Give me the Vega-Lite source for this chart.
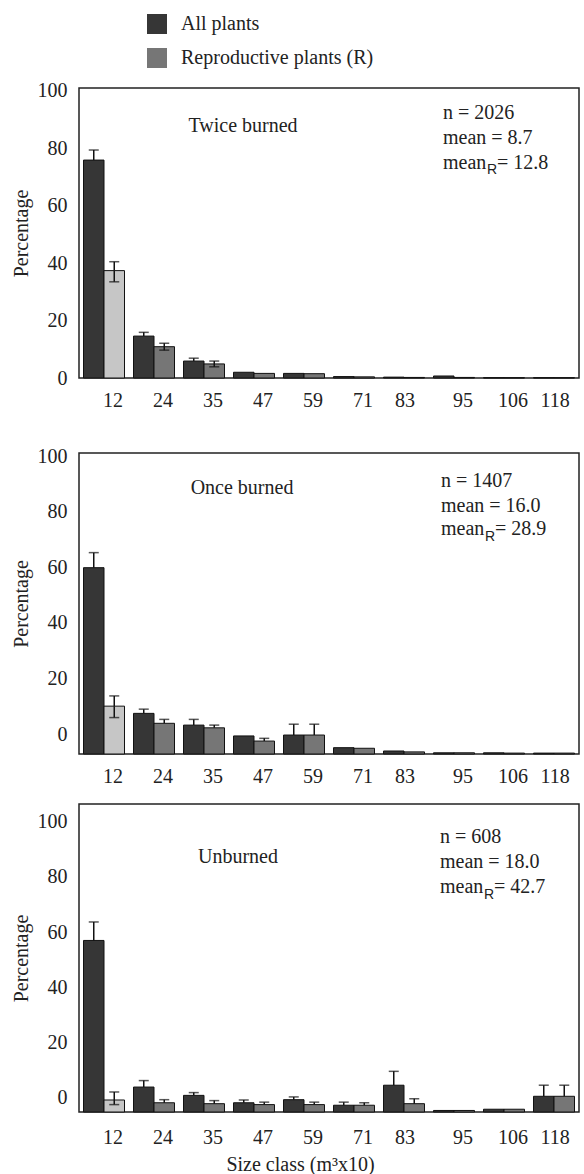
{
  "$schema": "https://vega.github.io/schema/vega-lite/v6.json",
  "padding": {"left": 10, "top": 14, "right": 0, "bottom": 0},
  "config": {
    "font": "Liberation Serif",
    "view": {"stroke": "#222", "strokeWidth": 1.5},
    "axis": {"grid": false, "ticks": false, "tickSize": 0, "domain": false, "labelFont": "Liberation Serif", "labelFontSize": 20, "labelColor": "#222", "titleFont": "Liberation Serif", "titleFontSize": 20, "titleFontWeight": "normal", "titleColor": "#222"},
    "axisX": {"labelAngle": 0, "labelPadding": 12},
    "axisY": {"labelPadding": 12, "titlePadding": 6, "labelFlush": false},
    "legend": {"labelLimit": 400, "labelFont": "Liberation Serif"},
    "text": {"font": "Liberation Serif", "fontSize": 20, "color": "#222"}
  },
  "datasets": {
    "bars": [
      {"p":"Twice burned","c":"12","g":"All plants","v":75.9,"hi":79.4},
      {"p":"Twice burned","c":"12","g":"Reproductive plants (R)","v":37.4,"lo":33.5,"hi":40.5},
      {"p":"Twice burned","c":"24","g":"All plants","v":14.6,"hi":15.9},
      {"p":"Twice burned","c":"24","g":"Reproductive plants (R)","v":10.9,"lo":9.7,"hi":12.1},
      {"p":"Twice burned","c":"35","g":"All plants","v":5.9,"hi":6.9},
      {"p":"Twice burned","c":"35","g":"Reproductive plants (R)","v":4.9,"lo":3.9,"hi":5.9},
      {"p":"Twice burned","c":"47","g":"All plants","v":2.0},
      {"p":"Twice burned","c":"47","g":"Reproductive plants (R)","v":1.6},
      {"p":"Twice burned","c":"59","g":"All plants","v":1.6},
      {"p":"Twice burned","c":"59","g":"Reproductive plants (R)","v":1.5},
      {"p":"Twice burned","c":"71","g":"All plants","v":0.5},
      {"p":"Twice burned","c":"71","g":"Reproductive plants (R)","v":0.4},
      {"p":"Twice burned","c":"83","g":"All plants","v":0.3},
      {"p":"Twice burned","c":"83","g":"Reproductive plants (R)","v":0.2},
      {"p":"Twice burned","c":"95","g":"All plants","v":0.7},
      {"p":"Twice burned","c":"95","g":"Reproductive plants (R)","v":0.2},
      {"p":"Twice burned","c":"106","g":"All plants","v":0.1},
      {"p":"Twice burned","c":"106","g":"Reproductive plants (R)","v":0.1},
      {"p":"Twice burned","c":"118","g":"All plants","v":0.1},
      {"p":"Twice burned","c":"118","g":"Reproductive plants (R)","v":0.1},
      {"p":"Once burned","c":"12","g":"All plants","v":61.9,"hi":66.9},
      {"p":"Once burned","c":"12","g":"Reproductive plants (R)","v":15.9,"lo":12.1,"hi":19.3},
      {"p":"Once burned","c":"24","g":"All plants","v":13.5,"hi":14.9},
      {"p":"Once burned","c":"24","g":"Reproductive plants (R)","v":10.2,"hi":11.5},
      {"p":"Once burned","c":"35","g":"All plants","v":9.6,"hi":11.5},
      {"p":"Once burned","c":"35","g":"Reproductive plants (R)","v":8.7,"hi":9.6},
      {"p":"Once burned","c":"47","g":"All plants","v":6.0},
      {"p":"Once burned","c":"47","g":"Reproductive plants (R)","v":4.3,"hi":5.2},
      {"p":"Once burned","c":"59","g":"All plants","v":6.3,"hi":9.9},
      {"p":"Once burned","c":"59","g":"Reproductive plants (R)","v":6.3,"hi":9.9},
      {"p":"Once burned","c":"71","g":"All plants","v":2.1},
      {"p":"Once burned","c":"71","g":"Reproductive plants (R)","v":1.9},
      {"p":"Once burned","c":"83","g":"All plants","v":1.0},
      {"p":"Once burned","c":"83","g":"Reproductive plants (R)","v":0.7},
      {"p":"Once burned","c":"95","g":"All plants","v":0.4},
      {"p":"Once burned","c":"95","g":"Reproductive plants (R)","v":0.4},
      {"p":"Once burned","c":"106","g":"All plants","v":0.4},
      {"p":"Once burned","c":"106","g":"Reproductive plants (R)","v":0.3},
      {"p":"Once burned","c":"118","g":"All plants","v":0.3},
      {"p":"Once burned","c":"118","g":"Reproductive plants (R)","v":0.3},
      {"p":"Unburned","c":"12","g":"All plants","v":55.7,"hi":61.7},
      {"p":"Unburned","c":"12","g":"Reproductive plants (R)","v":3.9,"lo":2.4,"hi":6.5},
      {"p":"Unburned","c":"24","g":"All plants","v":8.1,"hi":10.2},
      {"p":"Unburned","c":"24","g":"Reproductive plants (R)","v":3.0,"hi":4.0},
      {"p":"Unburned","c":"35","g":"All plants","v":5.4,"hi":6.3},
      {"p":"Unburned","c":"35","g":"Reproductive plants (R)","v":2.7,"hi":3.7},
      {"p":"Unburned","c":"47","g":"All plants","v":3.0,"hi":3.9},
      {"p":"Unburned","c":"47","g":"Reproductive plants (R)","v":2.4,"hi":3.2},
      {"p":"Unburned","c":"59","g":"All plants","v":4.0,"hi":4.9},
      {"p":"Unburned","c":"59","g":"Reproductive plants (R)","v":2.4,"hi":3.2},
      {"p":"Unburned","c":"71","g":"All plants","v":2.2,"hi":3.2},
      {"p":"Unburned","c":"71","g":"Reproductive plants (R)","v":2.2,"hi":3.0},
      {"p":"Unburned","c":"83","g":"All plants","v":8.7,"hi":13.2},
      {"p":"Unburned","c":"83","g":"Reproductive plants (R)","v":2.7,"hi":4.3},
      {"p":"Unburned","c":"95","g":"All plants","v":0.5},
      {"p":"Unburned","c":"95","g":"Reproductive plants (R)","v":0.5},
      {"p":"Unburned","c":"106","g":"All plants","v":0.9},
      {"p":"Unburned","c":"106","g":"Reproductive plants (R)","v":0.9},
      {"p":"Unburned","c":"118","g":"All plants","v":5.1,"hi":8.7},
      {"p":"Unburned","c":"118","g":"Reproductive plants (R)","v":5.1,"hi":8.7}
    ],
    "notes": [
      {"p":"Twice burned","n":"n = 2026","m":"mean = 8.7","r":"= 12.8"},
      {"p":"Once burned","n":"n = 1407","m":"mean = 16.0","r":"= 28.9"},
      {"p":"Unburned","n":"n = 608","m":"mean = 18.0","r":"= 42.7"}
    ]
  },
  "spacing": 34,
  "vconcat": [
    {
      "width": 500, "height": 290,
      "layer": [
        {
          "data": {"name": "bars"},
          "transform": [{"filter": "datum.p == 'Twice burned'"}],
          "mark": {"type": "bar", "stroke": "#111", "strokeWidth": 1},
          "encoding": {
            "x": {"field": "c", "type": "nominal", "scale": {"domain": ["12","24","35","47","59","71","83","95","106","118"], "paddingInner": 0.18, "paddingOuter": 0.09}, "axis": {"title": null, "labelOffset": {"condition": {"test": "datum.value == '83' || datum.value == '118'", "value": 1}, "value": 9}}},
            "xOffset": {"field": "g", "type": "nominal", "scale": {"domain": ["All plants", "Reproductive plants (R)"], "paddingInner": 0}},
            "y": {"field": "v", "type": "quantitative", "title": "Percentage", "scale": {"domain": [0, 101], "nice": false}, "axis": {"values": [0, 20, 40, 60, 80, 100]}},
            "color": {"condition": {"test": "datum.c == '12' && datum.g != 'All plants'", "value": "#c6c6c6"}, "field": "g", "type": "nominal", "scale": {"domain": ["All plants", "Reproductive plants (R)"], "range": ["#363636", "#767676"]}, "legend": {"title": null, "orient": "none", "legendX": 68, "legendY": -74, "direction": "vertical", "symbolType": "square", "symbolSize": 400, "symbolStrokeWidth": 0, "labelFont": "Liberation Serif", "labelFontSize": 20, "labelColor": "#222", "labelOffset": 14, "rowPadding": 14, "padding": 0, "labelLimit": 400}}
          }
        },
        {
          "data": {"name": "bars"},
          "transform": [{"filter": "datum.p == 'Twice burned' && isValid(datum.hi)"}],
          "mark": {"type": "rule", "color": "#111", "strokeWidth": 1.5},
          "encoding": {"x": {"field": "c", "type": "nominal"}, "xOffset": {"field": "g", "type": "nominal"}, "y": {"field": "v", "type": "quantitative", "title": "Percentage"}, "y2": {"field": "hi"}}
        },
        {
          "data": {"name": "bars"},
          "transform": [{"filter": "datum.p == 'Twice burned' && isValid(datum.lo)"}],
          "mark": {"type": "rule", "color": "#111", "strokeWidth": 1.5},
          "encoding": {"x": {"field": "c", "type": "nominal"}, "xOffset": {"field": "g", "type": "nominal"}, "y": {"field": "lo", "type": "quantitative", "title": "Percentage"}, "y2": {"field": "v"}}
        },
        {
          "data": {"name": "bars"},
          "transform": [{"filter": "datum.p == 'Twice burned' && isValid(datum.hi)"}],
          "mark": {"type": "tick", "color": "#111", "thickness": 1.5, "size": 10},
          "encoding": {"x": {"field": "c", "type": "nominal"}, "xOffset": {"field": "g", "type": "nominal"}, "y": {"field": "hi", "type": "quantitative", "title": "Percentage"}}
        },
        {
          "data": {"name": "bars"},
          "transform": [{"filter": "datum.p == 'Twice burned' && isValid(datum.lo)"}],
          "mark": {"type": "tick", "color": "#111", "thickness": 1.5, "size": 10},
          "encoding": {"x": {"field": "c", "type": "nominal"}, "xOffset": {"field": "g", "type": "nominal"}, "y": {"field": "lo", "type": "quantitative", "title": "Percentage"}}
        },
        {
          "data": {"name": "notes"},
          "transform": [{"filter": "datum.p == 'Twice burned'"}],
          "mark": {"type": "text", "align": "center", "baseline": "middle", "dx": -11, "font": "Liberation Serif"},
          "encoding": {"x": {"datum": "47"}, "y": {"datum": 87.8}, "text": {"field": "p"}}
        },
        {
          "data": {"name": "notes"},
          "transform": [{"filter": "datum.p == 'Twice burned'"}],
          "mark": {"type": "text", "align": "left", "baseline": "middle", "dx": -11, "font": "Liberation Serif"},
          "encoding": {"x": {"datum": "95"}, "y": {"datum": 92.3}, "text": {"field": "n"}}
        },
        {
          "data": {"name": "notes"},
          "transform": [{"filter": "datum.p == 'Twice burned'"}],
          "mark": {"type": "text", "align": "left", "baseline": "middle", "dx": -11, "font": "Liberation Serif"},
          "encoding": {"x": {"datum": "95"}, "y": {"datum": 83.6}, "text": {"field": "m"}}
        },
        {
          "data": {"name": "notes"},
          "transform": [{"filter": "datum.p == 'Twice burned'"}],
          "mark": {"type": "text", "align": "left", "baseline": "middle", "dx": -11, "text": "mean", "font": "Liberation Serif"},
          "encoding": {"x": {"datum": "95"}, "y": {"datum": 74.9}}
        },
        {
          "data": {"name": "notes"},
          "transform": [{"filter": "datum.p == 'Twice burned'"}],
          "mark": {"type": "text", "align": "left", "baseline": "middle", "dx": 33, "text": "R", "font": "Liberation Sans", "fontSize": 14},
          "encoding": {"x": {"datum": "95"}, "y": {"datum": 72.3}}
        },
        {
          "data": {"name": "notes"},
          "transform": [{"filter": "datum.p == 'Twice burned'"}],
          "mark": {"type": "text", "align": "left", "baseline": "middle", "dx": 43, "font": "Liberation Serif"},
          "encoding": {"x": {"datum": "95"}, "y": {"datum": 74.9}, "text": {"field": "r"}}
        }
      ]
    },
    {
      "spacing": 16,
      "vconcat": [
        {
          "width": 500, "height": 301,
          "layer": [
            {
              "data": {"name": "bars"},
              "transform": [{"filter": "datum.p == 'Once burned'"}],
              "mark": {"type": "bar", "stroke": "#111", "strokeWidth": 1},
              "encoding": {
                "x": {"field": "c", "type": "nominal", "scale": {"domain": ["12","24","35","47","59","71","83","95","106","118"], "paddingInner": 0.18, "paddingOuter": 0.09}, "axis": {"title": null, "labelOffset": {"condition": {"test": "datum.value == '83' || datum.value == '118'", "value": 1}, "value": 9}}},
                "xOffset": {"field": "g", "type": "nominal", "scale": {"domain": ["All plants", "Reproductive plants (R)"], "paddingInner": 0}},
                "y": {"field": "v", "type": "quantitative", "title": "Percentage", "scale": {"domain": [0, 100], "nice": false}, "axis": {"values": [6.64, 25.11, 43.58, 62.06, 80.53, 99.0], "labelExpr": "round((datum.value - 6.64) / 0.9236)"}},
                "color": {"condition": {"test": "datum.c == '12' && datum.g != 'All plants'", "value": "#c6c6c6"}, "field": "g", "type": "nominal", "scale": {"domain": ["All plants", "Reproductive plants (R)"], "range": ["#363636", "#767676"]}, "legend": {"title": null, "orient": "none", "legendX": 68, "legendY": -74, "direction": "vertical", "symbolType": "square", "symbolSize": 400, "symbolStrokeWidth": 0, "labelFont": "Liberation Serif", "labelFontSize": 20, "labelColor": "#222", "labelOffset": 14, "rowPadding": 14, "padding": 0, "labelLimit": 400}}
              }
            },
            {
              "data": {"name": "bars"},
              "transform": [{"filter": "datum.p == 'Once burned' && isValid(datum.hi)"}],
              "mark": {"type": "rule", "color": "#111", "strokeWidth": 1.5},
              "encoding": {"x": {"field": "c", "type": "nominal"}, "xOffset": {"field": "g", "type": "nominal"}, "y": {"field": "v", "type": "quantitative", "title": "Percentage"}, "y2": {"field": "hi"}}
            },
            {
              "data": {"name": "bars"},
              "transform": [{"filter": "datum.p == 'Once burned' && isValid(datum.lo)"}],
              "mark": {"type": "rule", "color": "#111", "strokeWidth": 1.5},
              "encoding": {"x": {"field": "c", "type": "nominal"}, "xOffset": {"field": "g", "type": "nominal"}, "y": {"field": "lo", "type": "quantitative", "title": "Percentage"}, "y2": {"field": "v"}}
            },
            {
              "data": {"name": "bars"},
              "transform": [{"filter": "datum.p == 'Once burned' && isValid(datum.hi)"}],
              "mark": {"type": "tick", "color": "#111", "thickness": 1.5, "size": 10},
              "encoding": {"x": {"field": "c", "type": "nominal"}, "xOffset": {"field": "g", "type": "nominal"}, "y": {"field": "hi", "type": "quantitative", "title": "Percentage"}}
            },
            {
              "data": {"name": "bars"},
              "transform": [{"filter": "datum.p == 'Once burned' && isValid(datum.lo)"}],
              "mark": {"type": "tick", "color": "#111", "thickness": 1.5, "size": 10},
              "encoding": {"x": {"field": "c", "type": "nominal"}, "xOffset": {"field": "g", "type": "nominal"}, "y": {"field": "lo", "type": "quantitative", "title": "Percentage"}}
            },
            {
              "data": {"name": "notes"},
              "transform": [{"filter": "datum.p == 'Once burned'"}],
              "mark": {"type": "text", "align": "center", "baseline": "middle", "dx": -12, "font": "Liberation Serif"},
              "encoding": {"x": {"datum": "47"}, "y": {"datum": 88.4}, "text": {"field": "p"}}
            },
            {
              "data": {"name": "notes"},
              "transform": [{"filter": "datum.p == 'Once burned'"}],
              "mark": {"type": "text", "align": "left", "baseline": "middle", "dx": -13, "font": "Liberation Serif"},
              "encoding": {"x": {"datum": "95"}, "y": {"datum": 90.7}, "text": {"field": "n"}}
            },
            {
              "data": {"name": "notes"},
              "transform": [{"filter": "datum.p == 'Once burned'"}],
              "mark": {"type": "text", "align": "left", "baseline": "middle", "dx": -13, "font": "Liberation Serif"},
              "encoding": {"x": {"datum": "95"}, "y": {"datum": 82.4}, "text": {"field": "m"}}
            },
            {
              "data": {"name": "notes"},
              "transform": [{"filter": "datum.p == 'Once burned'"}],
              "mark": {"type": "text", "align": "left", "baseline": "middle", "dx": -13, "text": "mean", "font": "Liberation Serif"},
              "encoding": {"x": {"datum": "95"}, "y": {"datum": 74.8}}
            },
            {
              "data": {"name": "notes"},
              "transform": [{"filter": "datum.p == 'Once burned'"}],
              "mark": {"type": "text", "align": "left", "baseline": "middle", "dx": 31, "text": "R", "font": "Liberation Sans", "fontSize": 14},
              "encoding": {"x": {"datum": "95"}, "y": {"datum": 72.0}}
            },
            {
              "data": {"name": "notes"},
              "transform": [{"filter": "datum.p == 'Once burned'"}],
              "mark": {"type": "text", "align": "left", "baseline": "middle", "dx": 41, "font": "Liberation Serif"},
              "encoding": {"x": {"datum": "95"}, "y": {"datum": 74.8}, "text": {"field": "r"}}
            }
          ]
        },
        {
          "width": 500, "height": 308,
          "layer": [
            {
              "data": {"name": "bars"},
              "transform": [{"filter": "datum.p == 'Unburned'"}],
              "mark": {"type": "bar", "stroke": "#111", "strokeWidth": 1},
              "encoding": {
                "x": {"field": "c", "type": "nominal", "scale": {"domain": ["12","24","35","47","59","71","83","95","106","118"], "paddingInner": 0.18, "paddingOuter": 0.09}, "axis": {"title": "Size class (m³x10)", "titleX": 221, "titleAlign": "center", "titlePadding": 7, "labelPadding": 15, "labelOffset": {"condition": {"test": "datum.value == '83' || datum.value == '118'", "value": 1}, "value": 9}}},
                "xOffset": {"field": "g", "type": "nominal", "scale": {"domain": ["All plants", "Reproductive plants (R)"], "paddingInner": 0}},
                "y": {"field": "v", "type": "quantitative", "title": "Percentage", "scale": {"domain": [0, 100], "nice": false}, "axis": {"values": [4.7, 22.6, 40.5, 58.4, 76.3, 94.2], "labelExpr": "round((datum.value - 4.7) / 0.895)"}},
                "color": {"condition": {"test": "datum.c == '12' && datum.g != 'All plants'", "value": "#c6c6c6"}, "field": "g", "type": "nominal", "scale": {"domain": ["All plants", "Reproductive plants (R)"], "range": ["#363636", "#767676"]}, "legend": {"title": null, "orient": "none", "legendX": 68, "legendY": -74, "direction": "vertical", "symbolType": "square", "symbolSize": 400, "symbolStrokeWidth": 0, "labelFont": "Liberation Serif", "labelFontSize": 20, "labelColor": "#222", "labelOffset": 14, "rowPadding": 14, "padding": 0, "labelLimit": 400}}
              }
            },
            {
              "data": {"name": "bars"},
              "transform": [{"filter": "datum.p == 'Unburned' && isValid(datum.hi)"}],
              "mark": {"type": "rule", "color": "#111", "strokeWidth": 1.5},
              "encoding": {"x": {"field": "c", "type": "nominal"}, "xOffset": {"field": "g", "type": "nominal"}, "y": {"field": "v", "type": "quantitative", "title": "Percentage"}, "y2": {"field": "hi"}}
            },
            {
              "data": {"name": "bars"},
              "transform": [{"filter": "datum.p == 'Unburned' && isValid(datum.lo)"}],
              "mark": {"type": "rule", "color": "#111", "strokeWidth": 1.5},
              "encoding": {"x": {"field": "c", "type": "nominal"}, "xOffset": {"field": "g", "type": "nominal"}, "y": {"field": "lo", "type": "quantitative", "title": "Percentage"}, "y2": {"field": "v"}}
            },
            {
              "data": {"name": "bars"},
              "transform": [{"filter": "datum.p == 'Unburned' && isValid(datum.hi)"}],
              "mark": {"type": "tick", "color": "#111", "thickness": 1.5, "size": 10},
              "encoding": {"x": {"field": "c", "type": "nominal"}, "xOffset": {"field": "g", "type": "nominal"}, "y": {"field": "hi", "type": "quantitative", "title": "Percentage"}}
            },
            {
              "data": {"name": "bars"},
              "transform": [{"filter": "datum.p == 'Unburned' && isValid(datum.lo)"}],
              "mark": {"type": "tick", "color": "#111", "thickness": 1.5, "size": 10},
              "encoding": {"x": {"field": "c", "type": "nominal"}, "xOffset": {"field": "g", "type": "nominal"}, "y": {"field": "lo", "type": "quantitative", "title": "Percentage"}}
            },
            {
              "data": {"name": "notes"},
              "transform": [{"filter": "datum.p == 'Unburned'"}],
              "mark": {"type": "text", "align": "center", "baseline": "middle", "dx": -16, "font": "Liberation Serif"},
              "encoding": {"x": {"datum": "47"}, "y": {"datum": 82.8}, "text": {"field": "p"}}
            },
            {
              "data": {"name": "notes"},
              "transform": [{"filter": "datum.p == 'Unburned'"}],
              "mark": {"type": "text", "align": "left", "baseline": "middle", "dx": -14, "font": "Liberation Serif"},
              "encoding": {"x": {"datum": "95"}, "y": {"datum": 89.3}, "text": {"field": "n"}}
            },
            {
              "data": {"name": "notes"},
              "transform": [{"filter": "datum.p == 'Unburned'"}],
              "mark": {"type": "text", "align": "left", "baseline": "middle", "dx": -14, "font": "Liberation Serif"},
              "encoding": {"x": {"datum": "95"}, "y": {"datum": 81.2}, "text": {"field": "m"}}
            },
            {
              "data": {"name": "notes"},
              "transform": [{"filter": "datum.p == 'Unburned'"}],
              "mark": {"type": "text", "align": "left", "baseline": "middle", "dx": -14, "text": "mean", "font": "Liberation Serif"},
              "encoding": {"x": {"datum": "95"}, "y": {"datum": 73.1}}
            },
            {
              "data": {"name": "notes"},
              "transform": [{"filter": "datum.p == 'Unburned'"}],
              "mark": {"type": "text", "align": "left", "baseline": "middle", "dx": 30, "text": "R", "font": "Liberation Sans", "fontSize": 14},
              "encoding": {"x": {"datum": "95"}, "y": {"datum": 70.5}}
            },
            {
              "data": {"name": "notes"},
              "transform": [{"filter": "datum.p == 'Unburned'"}],
              "mark": {"type": "text", "align": "left", "baseline": "middle", "dx": 40, "font": "Liberation Serif"},
              "encoding": {"x": {"datum": "95"}, "y": {"datum": 73.1}, "text": {"field": "r"}}
            }
          ]
        }
      ]
    }
  ]
}
